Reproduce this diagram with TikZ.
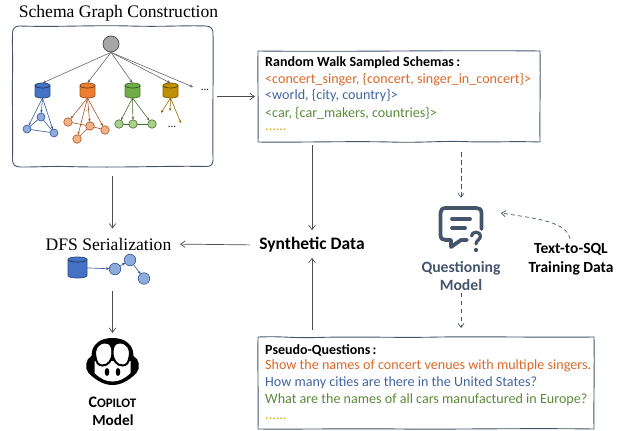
\documentclass[tikz,border=0pt]{standalone}
\usepackage{fontspec}
\setmainfont{Carlito}
\newfontfamily\timesf{Liberation Serif}
\usetikzlibrary{arrows.meta,shapes.geometric}
\definecolor{frameblue}{HTML}{44546A}
\definecolor{cblue}{HTML}{4472C4}
\definecolor{cbluel}{HTML}{8FAADC}
\definecolor{dblue}{HTML}{2F5597}
\definecolor{corange}{HTML}{ED7D31}
\definecolor{corangel}{HTML}{F4B183}
\definecolor{dorange}{HTML}{A5522A}
\definecolor{cgreen}{HTML}{70AD47}
\definecolor{cgreenl}{HTML}{A9D18E}
\definecolor{dgreen}{HTML}{466D2C}
\definecolor{cgold}{HTML}{BF9000}
\definecolor{dgold}{HTML}{8F6C00}
\definecolor{torange}{HTML}{D9682A}
\definecolor{tblue}{HTML}{41659F}
\definecolor{tgreen}{HTML}{5B8A3A}
\definecolor{tgold}{HTML}{E0A800}
\newcommand{\dbicon}[4]{%
 \begin{scope}[shift={(#1)}]
 \pgfmathsetmacro\dbw{#3/2}\pgfmathsetmacro\dbh{#4/2-2.5}\pgfmathsetmacro\dbe{3.3}
 \filldraw[fill=#2,draw=#2!70!black,line width=0.8pt] (-\dbw,-\dbh) -- (-\dbw,\dbh) .. controls (-\dbw,\dbh+\dbe) and (\dbw,\dbh+\dbe) .. (\dbw,\dbh) -- (\dbw,-\dbh) .. controls (\dbw,-\dbh-\dbe) and (-\dbw,-\dbh-\dbe) .. (-\dbw,-\dbh) -- cycle;
 \draw[draw=#2!45!black,line width=0.7pt] (-\dbw,-\dbh) .. controls (-\dbw,-\dbh+\dbe) and (\dbw,-\dbh+\dbe) .. (\dbw,-\dbh);
 \end{scope}}
\tikzset{
  x=1pt,y=-1pt,
  flow/.style={draw=black!70,line width=0.7pt,-{Straight Barb[length=4.5pt,width=6.5pt]}},
  dflow/.style={draw=frameblue,line width=0.7pt,dash pattern=on 4.5pt off 3.5pt,-{Straight Barb[length=4pt,width=6pt]}},
  tree/.style={draw=black!60,line width=0.6pt,-{Stealth[length=3.5pt,width=3pt]}},
  boxline/.style={draw=frameblue,line width=0.9pt},
  anchorbox/.style n args={2}{rectangle,minimum width=#1,minimum height=#2,inner sep=0pt,outer sep=0pt},
  db/.style={rectangle,minimum width=15pt,minimum height=15pt,inner sep=0pt,outer sep=0pt},
  vert/.style n args={2}{circle,minimum size=#2,inner sep=0pt,outer sep=0pt,draw=#1,line width=0.6pt},
  lbl/.style={font=\fontsize{14.1}{16}\selectfont,anchor=west,inner sep=0pt},
  headl/.style={font=\fontsize{17.6}{20}\selectfont\timesf,inner sep=0pt},
  boldl/.style={font=\fontsize{#1}{19.5}\selectfont\bfseries,inner sep=0pt,align=center}
}
\begin{document}
\begin{tikzpicture}
\useasboundingbox (0,0) rectangle (624,431);
\node[headl] (title) at (118.5,13) {Schema Graph Construction};
% schema frame
\node[anchorbox={201pt}{141pt}] (frame) at (112.5,96.5) {};
\draw[boxline] (19,26) .. controls (60,27.2) and (90,25) .. (130,26) .. controls (165,27) and (185,25.2) .. (206,26) .. controls (211,26.2) and (213,29) .. (213,33) .. controls (213.6,70) and (212.4,110) .. (213,160) .. controls (213,164.5) and (211,166.5) .. (206,166.5) .. controls (170,165.6) and (120,168) .. (70,166.6) .. controls (50,166) and (35,167.2) .. (20,167) .. controls (15,167) and (12.5,164) .. (12.5,160) .. controls (13,130) and (12,100) .. (12.6,70) .. controls (12.8,55) and (12.2,45) .. (12.5,33) .. controls (12.5,29) and (15,26) .. (19,26) -- cycle;
% root
\node[circle,minimum size=16pt,inner sep=0pt,draw=black!70,fill=black!35,line width=0.7pt] (root) at (111,44) {};
\node[db] (d1) at (42.5,90.5) {};
\node[db] (d2) at (87.5,90.5) {};
\node[db] (d3) at (132.5,90.5) {};
\node[db] (d4) at (170.5,90.5) {};
\dbicon{d1}{cblue}{15}{15}
\dbicon{d2}{corange}{15}{15}
\dbicon{d3}{cgreen}{15}{15}
\dbicon{d4}{cgold}{15}{15}
\coordinate (more) at (193,87);
\foreach \d in {d1,d2,d3,d4}{\draw[tree] (root.south) -- (\d.north);}
\draw[tree] (root.south) -- (more);
\node[font=\fontsize{11}{12}\selectfont,inner sep=0pt] (dots1) at (205,90) {...};
% blue graph
\node[vert={dblue}{8pt},fill=cbluel] (b1) at (41,117) {};
\node[vert={dblue}{8pt},fill=cbluel] (b2) at (27,129) {};
\node[vert={dblue}{8pt},fill=cbluel] (b3) at (54,133) {};
\foreach \v in {b1,b2,b3}{\draw[draw=dblue,line width=0.6pt,-{Stealth[length=3pt,width=2.5pt]}] (d1.south) -- (\v);}
\draw[dblue,line width=0.6pt] (b1)--(b2) (b2)--(b3) (b1)--(b3);
% orange graph
\node[vert={dorange}{8.5pt},fill=corangel] (o1) at (68,122) {};
\node[vert={dorange}{8.5pt},fill=corangel] (o2) at (90,126) {};
\node[vert={dorange}{8.5pt},fill=corangel] (o3) at (105,130) {};
\node[vert={dorange}{8.5pt},fill=corangel] (o4) at (77,139) {};
\foreach \v in {o1,o2,o3,o4}{\draw[draw=dorange,line width=0.6pt,-{Stealth[length=3pt,width=2.5pt]}] (d2.south) -- (\v);}
\draw[dorange,line width=0.6pt] (o1)--(o2) (o2)--(o3) (o2)--(o4);
% green graph
\node[vert={dgreen}{8.5pt},fill=cgreenl] (g1) at (119,124) {};
\node[vert={dgreen}{8.5pt},fill=cgreenl] (g2) at (133,124) {};
\node[vert={dgreen}{8.5pt},fill=cgreenl] (g3) at (152,124) {};
\foreach \v in {g1,g2,g3}{\draw[draw=dgreen,line width=0.6pt,-{Stealth[length=3pt,width=2.5pt]}] (d3.south) -- (\v);}
\draw[dgreen,line width=0.6pt] (g1)--(g2)--(g3);
% gold stubs
\coordinate (y1) at (161,113);
\coordinate (y2) at (170,111);
\coordinate (y3) at (181,123);
\foreach \v in {y1,y2,y3}{\draw[draw=dgold,line width=0.6pt,-{Stealth[length=3pt,width=2.5pt]}] (d4.south) -- (\v);}
\node[font=\fontsize{11}{12}\selectfont,inner sep=0pt] (dots2) at (172,127) {...};
% sampled schemas
\node[anchorbox={282pt}{91pt}] (box1) at (399,96.5) {};
\draw[boxline] (258,51) .. controls (350,52) and (450,50) .. (540,51) .. controls (540.6,80) and (539.6,110) .. (540,142) .. controls (510,141) and (490,142.6) .. (465,141.6) .. controls (440,140.8) and (420,143) .. (390,142) .. controls (350,141) and (300,142.6) .. (258,142) .. controls (258.5,110) and (257.6,80) .. (258,51) -- cycle;
\node[lbl,font=\fontsize{14}{16}\selectfont\bfseries] (t11) at (265,63) {Random Walk Sampled Schemas\,:};
\node[lbl,text=torange] (t12) at (265,80) {<concert\_singer, \{concert, singer\_in\_concert\}>};
\node[lbl,text=tblue] (t13) at (265,96) {<world, \{city, country\}>};
\node[lbl,text=tgreen] (t14) at (265,113) {<car, \{car\_makers, countries\}>};
\node[lbl,text=tgold] (t15) at (265,130) {......};
% pseudo questions
\node[anchorbox={336pt}{92pt}] (box2) at (426,383) {};
\draw[boxline] (258,337) .. controls (285,336) and (290,338.4) .. (320,337.4) .. controls (360,336.4) and (400,338) .. (440,337) .. controls (490,336.4) and (540,337.6) .. (594,337) .. controls (594.6,370) and (593.6,400) .. (594,429) .. controls (520,428) and (450,429.6) .. (400,429) .. controls (350,428.4) and (300,429.4) .. (258,429) .. controls (258.5,400) and (257.6,370) .. (258,337) -- cycle;
\node[lbl,font=\fontsize{14}{16}\selectfont\bfseries] (t21) at (265,350) {Pseudo-Questions\,:};
\node[lbl,text=torange] (t22) at (265,366) {Show the names of concert venues with multiple singers.};
\node[lbl,text=tblue] (t23) at (265,383) {How many cities are there in the United States?};
\node[lbl,text=tgreen] (t24) at (265,400) {What are the names of all cars manufactured in Europe?};
\node[lbl,text=tgold] (t25) at (265,419) {......};
% centre
\node[boldl=17.5] (syn) at (312,245) {Synthetic Data};
\node[headl] (dfs) at (108.5,244) {DFS Serialization};
% DFS picture
\node[db,minimum width=19pt,minimum height=21pt] (sd) at (77.5,267.5) {};
\dbicon{sd}{cblue}{19}{21}
\node[vert={dblue}{11.5pt},fill=cbluel] (s1) at (115,269) {};
\node[vert={dblue}{11.5pt},fill=cbluel] (s2) at (130,260) {};
\node[vert={dblue}{11.5pt},fill=cbluel] (s3) at (144,278.5) {};
\tikzset{sarrow/.style={draw=dblue,line width=0.6pt,-{Stealth[length=3pt,width=3pt]}}}
\draw[sarrow] (sd) -- (s1);
\draw[sarrow] (s1) -- (s2);
\draw[sarrow] (s2) -- (s3);
% copilot icon
\coordinate (cop) at (112.5,362);
\begin{scope}[shift={(cop)}]
 \fill[black] (-21,-6) .. controls (-21,-18) and (-12,-24) .. (0,-24) .. controls (12,-24) and (21,-18) .. (21,-6) .. controls (27,-3) and (28,6) .. (24,11) .. controls (16,19) and (8,23) .. (0,23) .. controls (-8,23) and (-16,19) .. (-24,11) .. controls (-28,6) and (-27,-3) .. (-21,-6) -- cycle;
 \fill[white] (-18,-1) -- (18,-1) -- (18,11) .. controls (12,17) and (6,19.5) .. (0,19.5) .. controls (-6,19.5) and (-12,17) .. (-18,11) -- cycle;
 \filldraw[fill=white,draw=black,line width=2pt] (-17,-5) .. controls (-19,-13) and (-15,-19.5) .. (-7,-19.5) .. controls (-2,-19.5) and (0,-15) .. (0,-10) .. controls (0,-2) and (-4,3.5) .. (-10,3.5) .. controls (-14,3.5) and (-16,1) .. (-17,-5) -- cycle;
 \filldraw[fill=white,draw=black,line width=2pt] (17,-5) .. controls (19,-13) and (15,-19.5) .. (7,-19.5) .. controls (2,-19.5) and (0,-15) .. (0,-10) .. controls (0,-2) and (4,3.5) .. (10,3.5) .. controls (14,3.5) and (16,1) .. (17,-5) -- cycle;
 \fill[black] (-5.5,10) ellipse [x radius=2.3,y radius=4];
 \fill[black] (5.5,10) ellipse [x radius=2.3,y radius=4];
\end{scope}
\node[inner sep=0pt,outer sep=0pt,minimum width=56pt,minimum height=48pt] (copicon) at (cop) {};
\node[boldl=16] (cop1) at (112.5,402) {C{\fontsize{13}{15}\selectfont OPILOT}};
\node[boldl=15.3] (cop2) at (113,420) {Model};
% questioning icon
\coordinate (qi) at (461,227);
\begin{scope}[shift={(qi)},draw=frameblue,line width=3.8pt,line cap=round,line join=round]
 \draw (20.5,2) -- (20.5,-14) .. controls (20.5,-18) and (18,-19) .. (15,-19) -- (-15,-19) .. controls (-19,-19) and (-20.5,-17) .. (-20.5,-14) -- (-20.5,8) .. controls (-20.5,12) and (-18,13) .. (-15,13) -- (-10,13) -- (-10,20) -- (0,13) -- (6,13);
 \draw (-9,-8) -- (9,-8);
 \draw (-9,1) -- (4,1);
 \draw[line width=3.2pt] (10.5,9) .. controls (10.5,4) and (19.5,4) .. (19.5,9) .. controls (19.5,13) and (15,13) .. (15,17);
 \fill[frameblue] (15,23) circle (2.1);
\end{scope}
\node[inner sep=0pt,minimum width=46pt,minimum height=44pt] (qicon) at (461,226) {};
\node[boldl=15.7,text=frameblue,font=\fontsize{15.7}{18}\selectfont\bfseries] (qm) at (461,276) {Questioning\\Model};
\node[boldl=15.5] (sql) at (571,259) {Text-to-SQL\\Training Data};
\coordinate (qtarget) at (501,213);
% connectors
\draw[flow,shorten <=4pt,shorten >=3pt] (frame.east) -- (box1.west);
\draw[flow,shorten <=9pt,shorten >=9pt] (frame.south) -- (dfs.north -| frame.south);
\draw[flow,shorten <=41pt,shorten >=5pt] (dfs.south -| copicon.north) -- (copicon.north);
\draw[flow,shorten <=3pt,shorten >=7pt] (box1.south -| syn.north) -- (syn.north);
\draw[flow,shorten <=7pt,shorten >=5pt] (box2.north -| syn.south) -- (syn.south);
\draw[flow,shorten <=9pt,shorten >=8.5pt] (syn.west) -- (dfs.east);
\draw[dflow,shorten <=10pt,shorten >=6pt] (box1.south -| qicon.north) -- (qicon.north);
\draw[dflow,shorten <=2pt,shorten >=9pt] (qm.south) -- (qm.south |- box2.north);
\draw[dflow,dash pattern=on 4pt off 3pt,shorten <=4pt] (sql.north) .. controls (566,222) and (540,219) .. (qtarget);
\end{tikzpicture}
\end{document}
